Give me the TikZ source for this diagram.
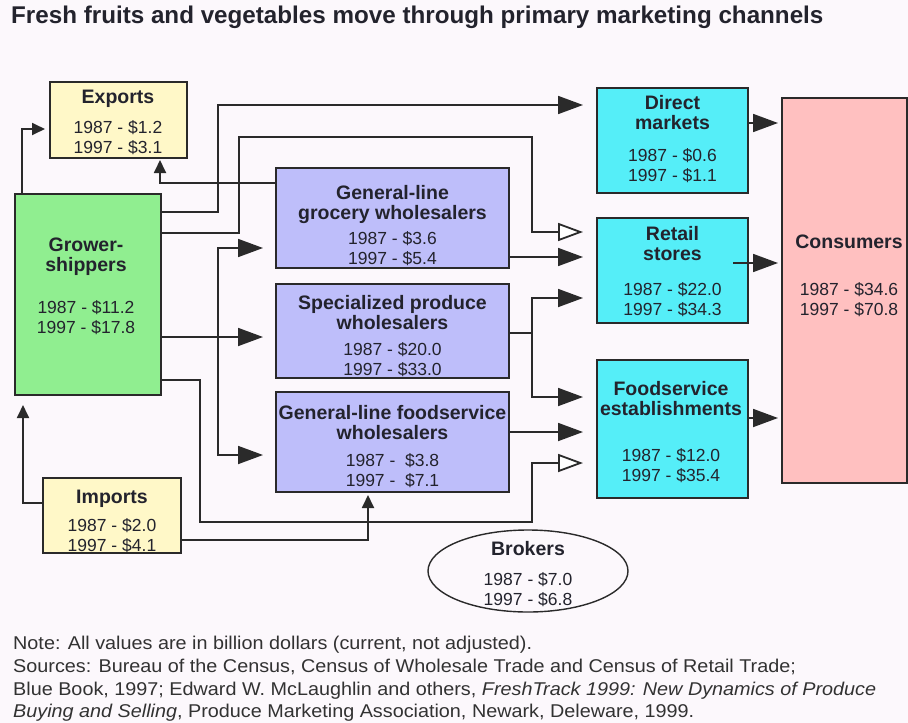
\documentclass[tikz,border=0pt]{standalone}
\usepackage{fontspec}
\setmainfont{Liberation Sans}
\newfontfamily\notefont[FakeStretch=1.07]{Liberation Sans}
\usepackage{color}
\usetikzlibrary{arrows.meta, shapes}

\definecolor{bgcol}{RGB}{252,248,252}
\definecolor{linecol}{RGB}{42,42,42}
\definecolor{textcol}{RGB}{35,35,45}
\definecolor{notecol}{RGB}{50,50,50}
\definecolor{yellowbox}{RGB}{255,248,200}
\definecolor{greenbox}{RGB}{144,238,144}
\definecolor{bluebox}{RGB}{190,190,250}
\definecolor{cyanbox}{RGB}{85,238,248}
\definecolor{pinkbox}{RGB}{255,192,192}

\newcommand{\boxtitle}[1]{{\fontsize{19.5}{20}\selectfont\bfseries #1}}

\begin{document}
\begin{tikzpicture}[x=1pt, y=-1pt,
		box/.style={draw=linecol, line width=1.6pt, inner sep=0pt, outer sep=0pt},
		lbl/.style={align=center, inner sep=0pt, text=textcol, font=\fontsize{17.5}{20}\selectfont},
		flow/.style={draw=linecol, line width=1.8pt, -{Triangle[length=25pt,width=18pt]}, shorten >=14pt},
		openflow/.style={flow, -{Triangle[length=25pt,width=18pt,fill=white]}},
		smallflow/.style={draw=linecol, line width=1.8pt, -{Triangle[length=13pt,width=12pt]}},
		]
		\path[use as bounding box, fill=bgcol] (0,0) rectangle (908,723);
		
		\node[anchor=west, inner sep=0pt, text=textcol, font=\fontsize{24.2}{28}\selectfont\bfseries] (title) at (11,17) {Fresh fruits and vegetables move through primary marketing channels};
		
		% boxes
		\node[box, fill=yellowbox, minimum width=137pt, minimum height=76pt] (exports) at (118.5,120) {};
		\node[box, fill=greenbox, minimum width=146pt, minimum height=201pt] (grower) at (88,294.5) {};
		\node[box, fill=bluebox, minimum width=233pt, minimum height=100pt] (grocery) at (392.5,218) {};
		\node[box, fill=bluebox, minimum width=233pt, minimum height=94pt] (special) at (392.5,331) {};
		\node[box, fill=bluebox, minimum width=233pt, minimum height=100pt] (fsw) at (392.5,442) {};
		\node[box, fill=yellowbox, minimum width=138pt, minimum height=75pt] (imports) at (112,515.5) {};
		\node[box, fill=cyanbox, minimum width=151pt, minimum height=105pt] (direct) at (672.5,140.5) {};
		\node[box, fill=cyanbox, minimum width=151pt, minimum height=105pt] (retail) at (672.5,270.5) {};
		\node[box, fill=cyanbox, minimum width=151pt, minimum height=138pt] (fse) at (672.5,429) {};
		\node[box, fill=pinkbox, minimum width=125pt, minimum height=385pt] (consumers) at (844.5,290.5) {};
		\node[box, ellipse, line width=1.4pt, minimum width=200pt, minimum height=82pt] (brokers) at (528,571) {};
		
		% texts
		\node[lbl] (exportslbl) at (118,122) {\boxtitle{Exports}\\[10pt]1987 - \$1.2\\1997 - \$3.1};
		\node[lbl] (growerlbl) at (86,286.5) {\boxtitle{Grower-}\\\boxtitle{shippers}\\[22pt]1987 - \$11.2\\1997 - \$17.8};
		\node[lbl] (grocerylbl) at (392.5,226) {\boxtitle{General-line}\\\boxtitle{grocery wholesalers}\\[5pt]1987 - \$3.6\\1997 - \$5.4};
		\node[lbl] (speciallbl) at (392.5,336) {\boxtitle{Specialized produce}\\\boxtitle{wholesalers}\\[6pt]1987 - \$20.0\\1997 - \$33.0};
		\node[lbl] (fswlbl) at (392.5,447) {\boxtitle{General-line foodservice}\\\boxtitle{wholesalers}\\[7pt]1987 - \ \$3.8\\1997 - \ \$7.1};
		\node[lbl] (importslbl) at (112,521) {\boxtitle{Imports}\\[8pt]1987 - \$2.0\\1997 - \$4.1};
		\node[lbl] (directlbl) at (672.5,139.5) {\boxtitle{Direct}\\\boxtitle{markets}\\[12pt]1987 - \$0.6\\1997 - \$1.1};
		\node[lbl] (retaillbl) at (672.5,272) {\boxtitle{Retail}\\\boxtitle{stores}\\[15pt]1987 - \$22.0\\1997 - \$34.3};
		\node[lbl] (fselbl) at (671,432) {\boxtitle{Foodservice}\\\boxtitle{establishments}\\[26pt]1987 - \$12.0\\1997 - \$35.4};
		\node[lbl] (consumerslbl) at (849,276) {\boxtitle{Consumers}\\[27pt]1987 - \$34.6\\1997 - \$70.8};
		\node[lbl] (brokerslbl) at (528,574) {\boxtitle{Brokers}\\[10pt]1987 - \$7.0\\1997 - \$6.8};
		
		% flows
		\coordinate (fork1) at (218,337);
		\coordinate (fork2) at (532,333);
		\draw[smallflow, shorten >=5pt] (grower.north -| 22,0) |- (exports.west |- 0,129);
		\draw[smallflow, shorten >=2pt] (grocery.west |- 0,183) -| (exports.south -| 160,0);
		\draw[flow] (grower.east |- 0,212) -| (218,105) -- (direct.west |- 0,105);
		\draw[openflow] (grower.east |- 0,233) -| (239,137) -| (532,232) -- (retail.west |- 0,232);
		\draw[flow, shorten >=13pt] (grower.east |- 0,337) -- (special.west |- 0,337);
		\draw[flow, shorten >=13pt] (fork1) |- (grocery.west |- 0,248);
		\draw[flow, shorten >=13pt] (fork1) |- (fsw.west |- 0,455);
		\draw[openflow] (grower.east |- 0,380) -| (200,522) -| (532,463) -- (fse.west |- 0,463);
		\draw[smallflow, shorten >=10pt] (imports.west |- 0,503) -| (grower.south -| 23,0);
		\draw[smallflow, shorten >=3pt] (imports.east |- 0,540) -| (fsw.south -| 368,0);
		\draw[flow] (grocery.east |- 0,257) -- (retail.west |- 0,257);
		\draw[flow] (special.east |- 0,333) -| (532,298) -- (retail.west |- 0,298);
		\draw[flow] (fork2) |- (fse.west |- 0,397);
		\draw[flow] (fsw.east |- 0,432) -- (fse.west |- 0,432);
		\draw[flow, shorten >=4pt] (direct.east |- 0,123) -- (consumers.west |- 0,123);
		\draw[flow, shorten >=4pt, shorten <=-15pt] (retail.east |- 0,263) -- (consumers.west |- 0,263);
		\draw[flow, shorten >=4pt] (fse.east |- 0,418) -- (consumers.west |- 0,418);
		
		\node[anchor=north west, align=left, inner sep=0pt, text=notecol, font=\notefont\fontsize{18.5}{22.7}\selectfont] (notes) at (13,636) {Note: All values are in billion dollars (current, not adjusted).\\Sources: Bureau of the Census, Census of Wholesale Trade and Census of Retail Trade;\\Blue Book, 1997; Edward W. McLaughlin and others, \textit{FreshTrack 1999: New Dynamics of Produce}\\\textit{Buying and Selling}, Produce Marketing Association, Newark, Deleware, 1999.};
\end{tikzpicture}
\end{document}
